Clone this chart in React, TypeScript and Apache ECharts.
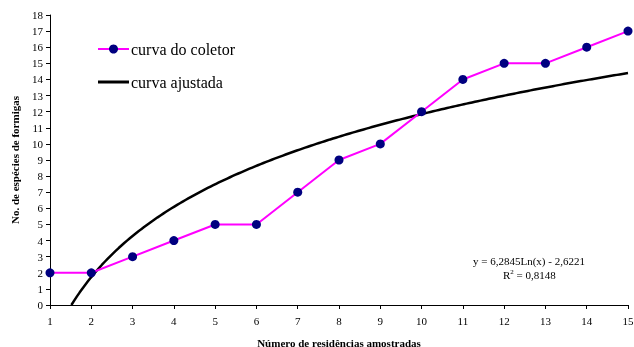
import React, { useEffect, useRef } from "react";
import * as echarts from "echarts";

const xValues = [1, 2, 3, 4, 5, 6, 7, 8, 9, 10, 11, 12, 13, 14, 15];
const coletorValues = [2, 2, 3, 4, 5, 5, 7, 9, 10, 12, 14, 15, 15, 16, 17];
const fitA = 6.2845;
const fitB = -2.6221;
const seriesNames = ["curva do coletor", "curva ajustada"];
const xAxisName = "Número de residências amostradas";
const yAxisName = "No. de espécies de formigas";
const equationText = "y = 6,2845Ln(x) - 2,6221";

const FONT = "Liberation Serif";

export default function App() {
  const ref = useRef<HTMLDivElement>(null);
  useEffect(() => {
    if (!ref.current) return;
    const chart = echarts.init(ref.current, null, { renderer: "svg" });
    const x0 = Math.exp(-fitB / fitA);
    const fitData: number[][] = [];
    const steps = 200;
    for (let i = 0; i <= steps; i++) {
      const x = x0 + ((15 - x0) * i) / steps;
      fitData.push([x, fitA * Math.log(x) + fitB]);
    }
    chart.setOption({
      animation: false,
      textStyle: { fontFamily: FONT },
      grid: { left: 50, right: 6, top: 15, bottom: 42, containLabel: false, outerBoundsMode: "none" },
      xAxis: {
        type: "value",
        min: 1,
        max: 15,
        interval: 1,
        name: xAxisName,
        nameLocation: "middle",
        nameGap: 32,
        nameTextStyle: { fontFamily: FONT, fontSize: 11, fontWeight: "bold", color: "#000" },
        axisLine: { lineStyle: { color: "#000", width: 1 } },
        axisTick: { show: true, length: 4, lineStyle: { color: "#000" } },
        axisLabel: { fontFamily: FONT, fontSize: 11, color: "#000", margin: 10 },
        splitLine: { show: false },
      },
      yAxis: {
        type: "value",
        min: 0,
        max: 18,
        interval: 1,
        name: yAxisName,
        nameLocation: "middle",
        nameGap: 30,
        nameTextStyle: { fontFamily: FONT, fontSize: 11, fontWeight: "bold", color: "#000" },
        axisLine: { show: true, lineStyle: { color: "#000", width: 1 } },
        axisTick: { show: true, length: 4, lineStyle: { color: "#000" } },
        axisLabel: { fontFamily: FONT, fontSize: 11, color: "#000", margin: 7 },
        splitLine: { show: false },
      },
      series: [
        {
          name: seriesNames[0],
          type: "line",
          data: xValues.map((x, i) => [x, coletorValues[i]]),
          lineStyle: { color: "#ff00ff", width: 2 },
          itemStyle: { color: "#000080", borderWidth: 0 },
          symbol: "circle",
          symbolSize: 9,
          z: 3,
        },
        {
          name: seriesNames[1],
          type: "line",
          data: fitData,
          showSymbol: false,
          symbol: "none",
          lineStyle: { color: "#000", width: 2.5 },
          z: 2,
        },
      ],
      graphic: [
        { type: "line", shape: { x1: 98, y1: 49, x2: 129, y2: 49 }, style: { stroke: "#ff00ff", lineWidth: 2 } },
        { type: "circle", shape: { cx: 113.5, cy: 49, r: 4.5 }, style: { fill: "#000080" } },
        {
          type: "text",
          x: 131,
          y: 49,
          style: { text: seriesNames[0], font: `16px "${FONT}"`, fill: "#000", verticalAlign: "middle" },
        },
        { type: "line", shape: { x1: 98, y1: 82, x2: 129, y2: 82 }, style: { stroke: "#000", lineWidth: 3 } },
        {
          type: "text",
          x: 131,
          y: 82,
          style: { text: seriesNames[1], font: `16px "${FONT}"`, fill: "#000", verticalAlign: "middle" },
        },
        {
          type: "text",
          left: 473,
          top: 255,
          style: { text: equationText, font: `11px "${FONT}"`, fill: "#000" },
        },
        {
          type: "text",
          left: 503,
          top: 268,
          style: {
            text: "R{sup|2} = 0,8148",
            font: `11px "${FONT}"`,
            fill: "#000",
            rich: { sup: { fontSize: 7, verticalAlign: "top", padding: [0, 0, 6, 0], fontFamily: FONT } },
          },
        },
      ],
    });
    return () => chart.dispose();
  }, []);
  return <div ref={ref} style={{ position: "fixed", left: 0, top: 0, width: 634, height: 347 }} />;
}
